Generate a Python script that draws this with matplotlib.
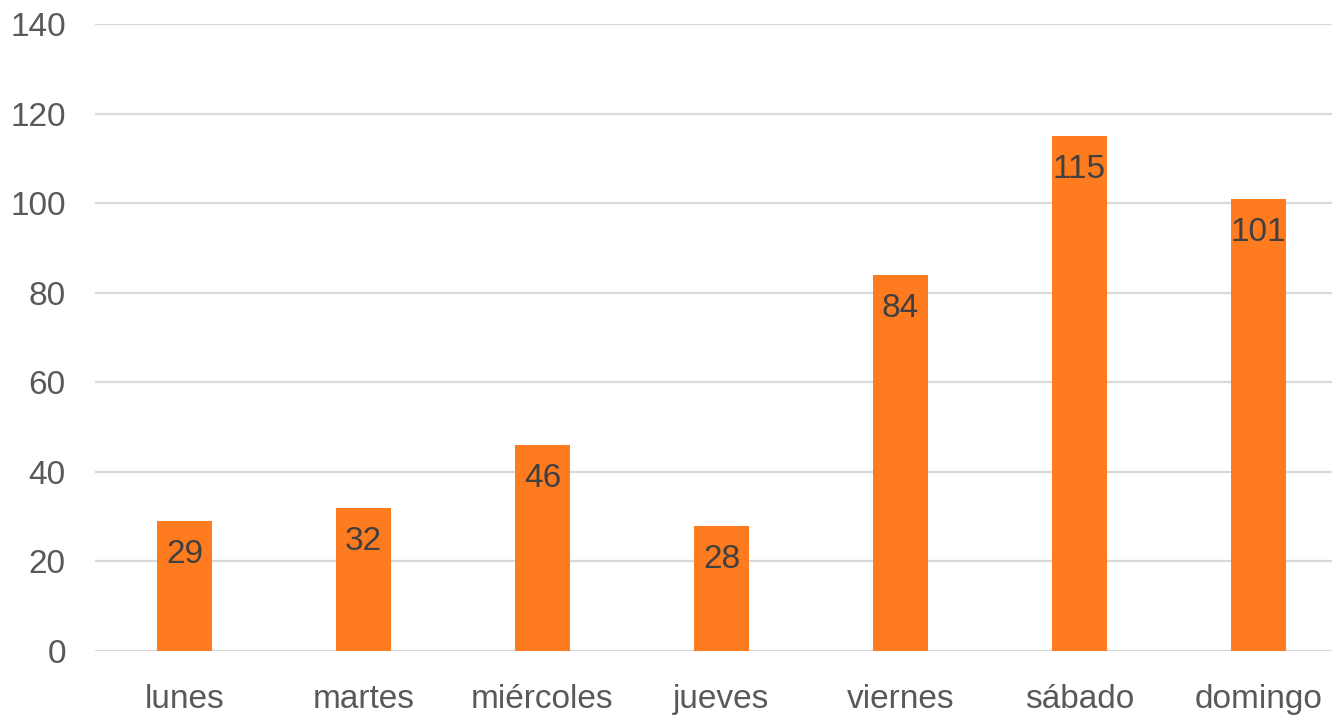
import matplotlib
matplotlib.use("Agg")
import matplotlib.pyplot as plt

days = ["lunes", "martes", "miércoles", "jueves", "viernes", "sábado", "domingo"]
counts = [29, 32, 46, 28, 84, 115, 101]
yticks = [0, 20, 40, 60, 80, 100, 120, 140]

bar_color = "#FF7B1F"
text_color = "#595959"
label_color = "#404040"
grid_color = "#D9D9D9"

plt.rcParams["font.family"] = ["Liberation Sans", "DejaVu Sans"]

W, H = 1332, 715
fig = plt.figure(figsize=(W / 100, H / 100), dpi=100)
left, right, bottom, top = 95, 1332, 715 - 651, 715 - 24
ax = fig.add_axes([left / W, bottom / H, (right - left) / W, (top - bottom) / H])

slot = 179.0
x = list(range(len(days)))
bars = ax.bar(x, counts, width=55 / slot, color=bar_color, zorder=3)

ax.set_xlim(-0.5, -0.5 + (right - left) / slot)
ax.set_ylim(0, 140)
ax.set_yticks(yticks)
ax.set_xticks(x)
ax.set_xticklabels(days)

for s in ax.spines.values():
    s.set_visible(False)
ax.grid(axis="y", color=grid_color, linewidth=1.6, zorder=0)
ax.tick_params(axis="both", length=0, labelsize=24, labelcolor=text_color)
ax.tick_params(axis="x", pad=24)
ax.tick_params(axis="y", pad=21)
for lbl in ax.get_yticklabels():
    lbl.set_horizontalalignment("right")

for rect, v in zip(bars, counts):
    ax.annotate(str(v), (rect.get_x() + rect.get_width() / 2, v),
                xytext=(0, -13), textcoords="offset points",
                ha="center", va="top", fontsize=24, color=label_color, zorder=4)

fig.savefig("out.png", dpi=100, facecolor="white")
